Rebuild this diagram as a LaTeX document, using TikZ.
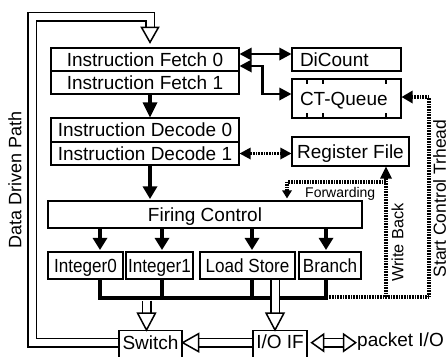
\documentclass[tikz,border=0pt]{standalone}
\usepackage{fontspec}
\setmainfont{Liberation Sans}
\newfontfamily\condfont[FakeStretch=0.9]{Liberation Sans}
\usetikzlibrary{calc}
% filled arrow head: #1 style, #2 point the line comes from, #3 tip, #4 length, #5 half width
\newcommand{\tipat}[5][]{%
  \coordinate (tmpb) at ($(#3)!#4!(#2)$);
  \fill[#1] ($(tmpb)!#5!90:(#3)$) -- (#3) -- ($(tmpb)!#5!-90:(#3)$) -- cycle;}
\begin{document}
\begin{tikzpicture}[x=1bp,y=-1bp,
  box/.style={draw,line width=1.3bp,inner sep=0pt,text height=13.6bp,text depth=0pt,
    font=\fontsize{19bp}{22bp}\selectfont},
  unitbox/.style={box,font=\condfont\fontsize{19bp}{22bp}\selectfont},
  leftbox/.style={box,inner xsep=8bp,text width=93bp,align=left},
  hollow/.style={double,double distance=7bp,line width=1.5bp,line join=miter},
  hhead/.style={draw,line width=1.5bp,fill=white,line join=miter},
  thline/.style={line width=4.5bp},
  busline/.style={line width=4.5bp,line join=miter},
  medline/.style={line width=2.7bp,line join=miter},
  dots/.style={line width=3.5bp,dash pattern=on 0.8bp off 0.8bp},
  lbl/.style={inner sep=0pt}]
\useasboundingbox (0,0) rectangle (448,356);
\fill[white] (0,0) rectangle (448,356);
\clip (0,0) rectangle (448,356);

% boxes
\node[box,minimum width=188bp,minimum height=23bp] (if0) at (145,59.5) {Instruction Fetch 0};
\node[box,minimum width=188bp,minimum height=23bp] (if1) at (145,82.5) {Instruction Fetch 1};
\node[box,minimum width=188bp,minimum height=24bp] (id0) at (145,130) {Instruction Decode 0};
\node[box,minimum width=188bp,minimum height=23bp] (id1) at (145,153.5) {Instruction Decode 1};
\node[box,minimum width=314bp,minimum height=27bp] (fc) at (205,214.5) {Firing Control};
\node[unitbox,minimum width=75bp,minimum height=27bp] (int0) at (85.5,265.5) {Integer0};
\node[unitbox,minimum width=67bp,minimum height=27bp] (int1) at (159.5,265.5) {Integer1};
\node[unitbox,minimum width=95bp,minimum height=27bp] (ls) at (247.5,265.5) {Load Store};
\node[unitbox,minimum width=62bp,minimum height=27bp] (br) at (330,265.5) {Branch};
\node[leftbox,minimum height=23bp] (dic) at (346.5,59.5) {DiCount};
\node[leftbox,minimum height=39bp] (ctq) at (346.5,98.5) {CT-Queue};
\node[box,minimum width=117bp,minimum height=29bp] (rf) at (350.5,151.5) {Register File};
\node[box,anchor=north,minimum width=63bp,inner ysep=0pt,text height=19bp,text depth=11bp] (sw) at (150.5,330) {Switch};
\node[box,anchor=north,minimum width=54bp,inner ysep=0pt,text height=18bp,text depth=12bp] (io) at (280,330) {I/O IF};

% CT-Queue ticks
\foreach \dx in {-39.5,-23.5,39.5} {
  \draw[line width=1.3bp] ([xshift=\dx bp]ctq.north) -- ++(0,6);
  \draw[line width=1.3bp] ([xshift=\dx bp]ctq.south) -- ++(0,-6);
}

% thick arrows
\coordinate (t0s) at ([xshift=5bp]if1.south);
\coordinate (t0e) at ([xshift=5bp]id0.north);
\draw[thline,shorten >=13bp] (t0s) -- (t0e);
\tipat{t0s}{t0e}{15bp}{7.5bp}
\coordinate (c1) at ([xshift=5bp]id1.south);
\coordinate (c1e) at ($(c1 |- fc.north)+(0,-1.5)$);
\draw[thline,shorten >=10bp] (c1) -- (c1e);
\tipat{c1}{c1e}{12.5bp}{7.5bp}
\coordinate (a0) at ([xshift=14.5bp]int0.north);
\coordinate (a1) at ([xshift=2.5bp]int1.north);
\coordinate (a2) at ([xshift=4.5bp]ls.north);
\coordinate (a3) at ([xshift=-4bp]br.north);
\foreach \a in {a0,a1,a2,a3} {
  \coordinate (\a s) at (\a |- fc.south);
  \coordinate (\a t) at ($(\a)+(0,-1.5)$);
  \draw[thline,shorten >=10bp] (\a s) -- (\a t);
  \tipat{\a s}{\a t}{12bp}{7.5bp}
}

% bus
\coordinate (b0) at ([xshift=14.5bp]int0.south);
\coordinate (b1) at ([xshift=2.5bp]int1.south);
\coordinate (b2) at ([xshift=4.5bp]ls.south);
\coordinate (b3) at ([xshift=-4bp]br.south);
\coordinate (busy) at (0,298);
\draw[busline] (b0) -- (b0 |- busy) -- (b3 |- busy) -- (b3);
\draw[busline] (b1) -- (b1 |- busy);
\draw[busline] (b2) -- (b2 |- busy);

% fetch arrows
\coordinate (m1) at ([yshift=5.5bp]if0.east);
\coordinate (m1e) at (m1 -| dic.west);
\draw[medline,shorten <=10bp,shorten >=10bp] (m1) -- (m1e);
\tipat{m1e}{m1}{12bp}{6.5bp}
\tipat{m1}{m1e}{12bp}{6.5bp}
\coordinate (m2) at ([yshift=-6.5bp]if0.east);
\coordinate (m3) at ([yshift=4.5bp]ctq.west);
\coordinate (m2c) at ([xshift=-29bp]m3);
\coordinate (m2k) at (m2c |- m2);
\draw[medline,shorten <=10bp,shorten >=10bp] (m2) -- (m2k) -- (m2c) -- (m3);
\tipat{m2k}{m2}{12bp}{6.5bp}
\tipat{m2c}{m3}{12bp}{6.5bp}

% dotted connectors
\coordinate (d1s) at (id1.east);
\coordinate (d1e) at (id1.east -| rf.west);
\draw[dots,shorten <=10bp,shorten >=10bp] (d1s) -- (d1e);
\tipat{d1e}{d1s}{11bp}{6bp}
\tipat{d1s}{d1e}{11bp}{6bp}
\coordinate (wb) at (386,297);
\coordinate (sc) at (429,297);
\coordinate (be) at (328.5,297);
\coordinate (fw) at (287,182);
\coordinate (ce) at ([yshift=1.5bp]ctq.east);
\coordinate (sck) at (sc |- ce);
\draw[dots,shorten >=9bp] (be) -- (sc) -- (sck) -- (ce);
\tipat{sck}{ce}{11bp}{6.5bp}
\coordinate (wbt) at (wb |- rf.south);
\draw[dots,shorten >=10bp] (wb) -- (wbt);
\tipat{wb}{wbt}{12bp}{6bp}
\coordinate (fwr) at (fw -| wb);
\coordinate (fwt) at ($(fw |- fc.north)+(0,-2)$);
\draw[dots,shorten >=6bp] (fwr) -- (fw) -- (fwt);
\tipat{fw}{fwt}{8bp}{5bp}

% hollow arrows: bus -> Switch
\coordinate (h1) at ([xshift=-4bp]sw.north);
\coordinate (h1b) at ([yshift=17bp]h1);
\coordinate (h1t) at ($(h1 |- busy)+(0,2.5)$);
\draw[hollow] (h1t) -- (h1b);
\tipat[hhead]{h1t}{h1}{17bp}{9bp}

% Load Store -> I/O IF
\coordinate (h2) at ([xshift=-5bp]io.north);
\coordinate (h2b) at ([yshift=17bp]h2);
\coordinate (h2t) at ($(h2 |- ls.south)+(0,0.7)$);
\draw[hollow] (h2t) -- (h2b);
\tipat[hhead]{h2t}{h2}{17bp}{9bp}

% I/O IF -> Switch
\coordinate (h3) at ([yshift=3bp]sw.east);
\coordinate (h3b) at ([xshift=16bp]h3);
\coordinate (h3s) at (h3b -| io.west);
\draw[hollow] (h3b) -- (h3s);
\tipat[hhead]{h3s}{h3}{16bp}{9bp}

% Data driven path loop
\coordinate (h4) at ([xshift=5bp]if0.north);
\coordinate (h4b) at ([yshift=20bp]h4);
\coordinate (h4t) at ([yshift=5bp]h4);
\coordinate (lp) at (32,16.5);
\draw[hollow] ([yshift=3bp]sw.west) -| (lp) -| (h4b);
\tipat[hhead]{h4b}{h4t}{15bp}{8.5bp}

% packet I/O
\coordinate (p1) at ([xshift=4bp,yshift=3bp]io.east);
\coordinate (p2) at ([xshift=44bp]p1);
\coordinate (p1b) at ([xshift=12bp]p1);
\coordinate (p2b) at ([xshift=-12bp]p2);
\draw[hollow] (p1b) -- (p2b);
\tipat[hhead]{p2}{p1}{12bp}{8.5bp}
\tipat[hhead]{p1}{p2}{12bp}{8.5bp}

% labels
\node[lbl,anchor=base west,font=\fontsize{19bp}{22bp}\selectfont] (pio) at (357,346) {packet I/O};
\node[lbl,rotate=90,font=\fontsize{18bp}{20bp}\selectfont] (ddp) at (15,180) {Data Driven Path};
\node[lbl,rotate=90,font=\fontsize{16.3bp}{18bp}\selectfont] (wbl) at (397.5,242.5) {Write Back};
\node[lbl,rotate=90,font=\fontsize{17.5bp}{20bp}\selectfont] (sct) at (439.5,198.5) {Start Control Trhead};
\node[lbl,anchor=base west,font=\fontsize{14bp}{16bp}\selectfont] (fwl) at (305,197) {Forwarding};
\end{tikzpicture}
\end{document}
